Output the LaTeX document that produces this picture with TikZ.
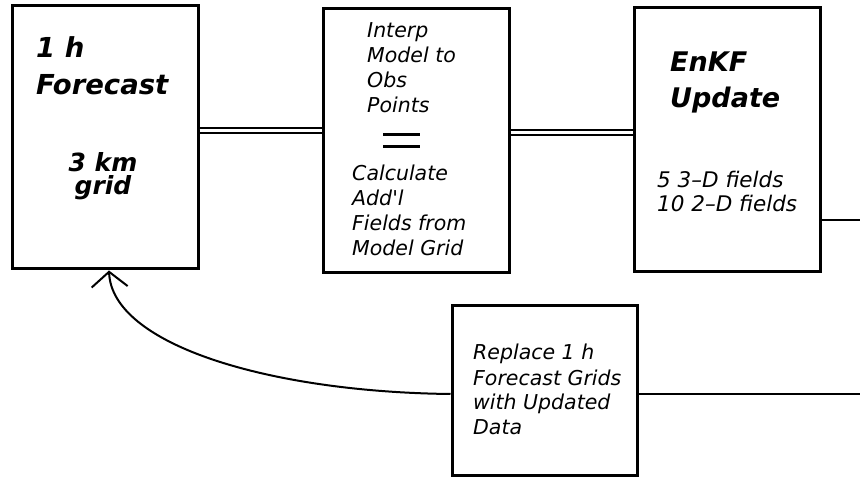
\documentclass[tikz,border=0pt]{standalone}
\usepackage{fontspec}
\setmainfont{DejaVu Sans}
\usetikzlibrary{arrows.meta}
\begin{document}
\begin{tikzpicture}[x=1pt,y=-1pt,
  box/.style={draw, line width=3pt, inner sep=0pt},
  conn/.style={line width=2pt},
  dbl/.style={line width=2pt, double, double distance=3pt},
  txt/.style={inner sep=0pt, anchor=base west, align=left},
  bigb/.style={font=\bfseries\itshape\fontsize{27.5}{37}\selectfont},
  small/.style={font=\itshape\fontsize{20.5}{25}\selectfont}]
\useasboundingbox[fill=white] (0,0) rectangle (860,478);
% boxes
\node[box, minimum width=186pt, minimum height=263pt] (fc) at (105,137.5) {};
\node[box, minimum width=186pt, minimum height=264pt] (ip) at (416,141) {};
\node[box, minimum width=186pt, minimum height=264pt] (en) at (727,140) {};
\node[box, minimum width=185pt, minimum height=169pt] (rp) at (544.5,390.5) {};
% texts (anchored at the baseline of the last line)
\node[txt, bigb] (t1) at (36,95) {1 h\\Forecast};
\node[inner sep=0pt, anchor=base, align=center, font=\bfseries\itshape\fontsize{25}{23}\selectfont] (t2) at (103,195) {3 km\\grid};
\node[txt, small] (t3) at (367,113) {Interp\\Model to\\Obs\\Points};
\node[txt, small] (t4) at (352,256) {Calculate\\Add\textquotesingle l\\Fields from\\Model Grid};
\node[txt, font=\bfseries\itshape\fontsize{27}{36}\selectfont] (t5) at (670,108) {EnKF\\Update};
\node[txt, font=\itshape\fontsize{21.5}{24}\selectfont] (t6) at (657,212) {5 3--D fields\\10 2--D fields};
\node[txt, small] (t7) at (473,435) {Replace 1 h\\Forecast Grids\\with Updated\\Data};
% equals sign
\coordinate (e1) at (383,135); \coordinate (e2) at (420,135);
\coordinate (e3) at (383,147); \coordinate (e4) at (420,147);
\draw[line width=3pt] (e1) -- (e2) (e3) -- (e4);
% connectors
\coordinate (ya) at (0,131);
\coordinate (yb) at (0,133);
\coordinate (ec) at (860,220);
\coordinate (rc) at (860,394);
\coordinate (ax) at (109,0);
\draw[dbl] (fc.east |- ya) -- (ip.west |- ya);
\draw[dbl] (ip.east |- yb) -- (en.west |- yb);
\draw[conn] (en.east |- ec) -- (ec);
\draw[conn] (rp.east |- rc) -- (rc);
\draw[conn, -{Straight Barb[length=15pt, width=36pt]}] (rp.west |- rc) .. controls (270,392) and (112,345) .. (fc.south -| ax);
\end{tikzpicture}
\end{document}
